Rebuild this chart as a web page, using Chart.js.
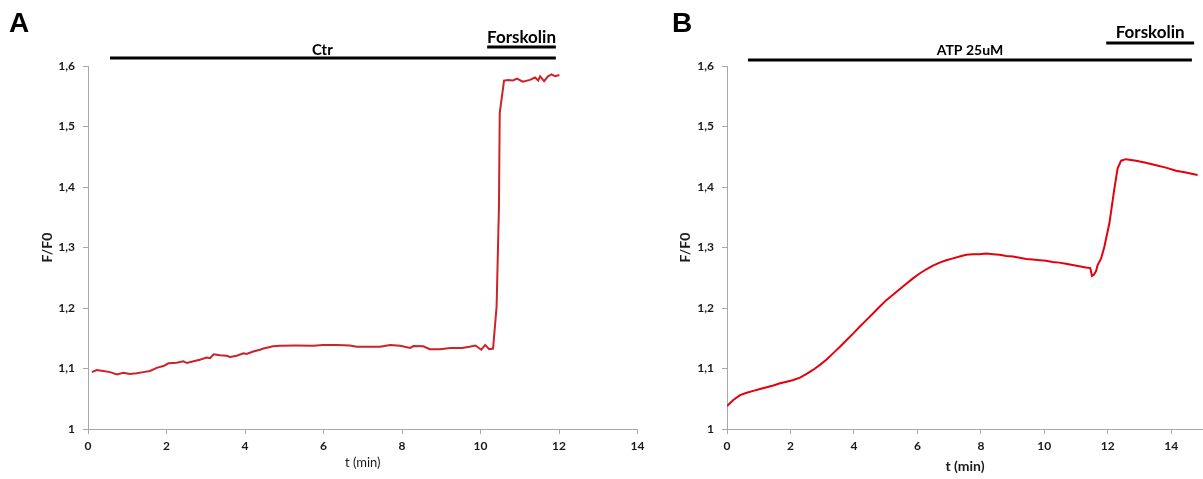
<!DOCTYPE html>
<html>
<head>
<meta charset="utf-8">
<script src="https://cdn.jsdelivr.net/npm/chart.js@4.4.0/dist/chart.umd.min.js"></script>
<style>
  html, body { margin: 0; padding: 0; background: #fff; }
  #wrap { position: relative; width: 1203px; height: 479px; overflow: hidden; }
  #cA { position: absolute; left: 0; top: 0; }
  #cB { position: absolute; left: 640px; top: 0; }
</style>
</head>
<body>
<div id="wrap">
  <canvas id="cA" width="660" height="479" style="width:660px;height:479px"></canvas>
  <canvas id="cB" width="563" height="479" style="width:563px;height:479px"></canvas>
</div>
<script>
// パネルA: 対照 (Ctr) → フォルスコリン
var tA = [0.10, 0.22, 0.39, 0.56, 0.74, 0.90, 1.07, 1.24, 1.41, 1.58, 1.75, 1.92, 2.05, 2.26, 2.43, 2.52,
  2.69, 2.85, 3.02, 3.11, 3.20, 3.36, 3.53, 3.62, 3.79, 3.96, 4.04, 4.21, 4.38, 4.47, 4.72, 4.89,
  5.31, 5.74, 5.99, 6.34, 6.67, 6.85, 7.44, 7.70, 7.95, 8.21, 8.29, 8.54, 8.71, 8.97, 9.23, 9.53,
  9.72, 9.87, 10.02, 10.12, 10.22, 10.32, 10.41, 10.47, 10.49, 10.60, 10.70, 10.83, 10.93, 11.08,
  11.26, 11.39, 11.47, 11.52, 11.62, 11.72, 11.81, 11.90, 12.01];
var fA = [1.094, 1.0975, 1.096, 1.094, 1.090, 1.093, 1.091, 1.092, 1.094, 1.096, 1.101, 1.104, 1.1086, 1.1096, 1.112, 1.109,
  1.112, 1.1145, 1.118, 1.117, 1.1235, 1.122, 1.121, 1.119, 1.121, 1.125, 1.124, 1.128, 1.131, 1.133, 1.1367, 1.1377,
  1.138, 1.1377, 1.139, 1.139, 1.138, 1.136, 1.136, 1.139, 1.1377, 1.134, 1.137, 1.1367, 1.132, 1.132, 1.134, 1.134,
  1.136, 1.138, 1.131, 1.139, 1.132, 1.133, 1.202, 1.367, 1.522, 1.576, 1.577, 1.576, 1.579, 1.574,
  1.577, 1.581, 1.576, 1.583, 1.575, 1.583, 1.586, 1.583, 1.585];

// パネルB: ATP 25uM → フォルスコリン
var tB = [0.00, 0.10, 0.20, 0.41, 0.62, 0.83, 1.04, 1.25, 1.46, 1.67, 1.88, 2.09, 2.30, 2.51, 2.72, 2.93,
  3.14, 3.34, 3.56, 3.77, 3.98, 4.18, 4.39, 4.60, 4.81, 5.02, 5.23, 5.44, 5.65, 5.86, 6.07, 6.28,
  6.49, 6.70, 6.91, 7.12, 7.33, 7.54, 7.75, 7.96, 8.17, 8.38, 8.59, 8.80, 9.01, 9.22, 9.43, 9.64,
  9.85, 10.06, 10.26, 10.47, 10.68, 10.89, 11.10, 11.31, 11.45, 11.50, 11.56, 11.63, 11.68, 11.79,
  11.89, 12.05, 12.20, 12.31, 12.42, 12.57, 12.89, 13.20, 13.52, 13.83, 14.15, 14.46, 14.83];
var fB = [1.038, 1.043, 1.048, 1.056, 1.060, 1.063, 1.066, 1.069, 1.072, 1.0755, 1.078, 1.081, 1.085, 1.091, 1.098, 1.106,
  1.115, 1.125, 1.136, 1.147, 1.158, 1.169, 1.180, 1.191, 1.202, 1.213, 1.222, 1.231, 1.240, 1.249, 1.257, 1.264,
  1.270, 1.275, 1.279, 1.282, 1.285, 1.288, 1.289, 1.289, 1.290, 1.289, 1.288, 1.286, 1.285, 1.283, 1.281, 1.280,
  1.279, 1.278, 1.276, 1.275, 1.273, 1.271, 1.269, 1.267, 1.266, 1.253, 1.255, 1.261, 1.271, 1.282,
  1.301, 1.340, 1.395, 1.431, 1.4435, 1.446, 1.4435, 1.440, 1.436, 1.432, 1.427, 1.424, 1.420];

// 処理区間 (min)
var ctrRange = [0.56, 11.92];
var forskRangeA = [10.17, 11.92];
var atpRange = [0.66, 14.65];
var forskRangeB = [11.95, 14.72];

var yTicks = [1, 1.1, 1.2, 1.3, 1.4, 1.5, 1.6];

var FONT = 'Lato, "Open Sans", sans-serif';
var AXIS_GREY = '#a8a8a8';

function toPoints(ts, vs) {
  return ts.map(function(t, i) { return { x: t, y: vs[i] }; });
}

function fmtComma(v) {
  var r = Math.round(v * 10) / 10;
  return String(r).replace('.', ',');
}

// 上部の処理バーとパネル記号
var annotations = {
  id: 'annotations',
  afterDraw: function(chart, args, opts) {
    var ctx = chart.ctx;
    var xs = chart.scales.x;
    ctx.save();
    ctx.fillStyle = '#000';
    ctx.strokeStyle = '#000';
    ctx.textAlign = 'center';
    ctx.textBaseline = 'middle';
    opts.bars.forEach(function(b) {
      var x0 = xs.getPixelForValue(b.range[0]);
      var x1 = xs.getPixelForValue(b.range[1]);
      ctx.lineWidth = 3;
      ctx.beginPath();
      ctx.moveTo(x0, b.y);
      ctx.lineTo(x1, b.y);
      ctx.stroke();
      ctx.font = b.font;
      var tx = b.labelAt != null ? xs.getPixelForValue(b.labelAt) : (x0 + x1) / 2;
      ctx.fillText(b.label, tx, b.textY);
    });
    ctx.font = 'bold 28px "Liberation Sans", Arial, sans-serif';
    ctx.textAlign = 'left';
    ctx.textBaseline = 'alphabetic';
    ctx.fillText(opts.letter, opts.letterX, 32);
    ctx.restore();
  }
};

function makeChart(id, cfg) {
  return new Chart(document.getElementById(id), {
    type: 'line',
    data: {
      datasets: [{
        data: cfg.points,
        borderColor: cfg.color,
        borderWidth: 2,
        pointRadius: 0,
        tension: 0,
        fill: false
      }]
    },
    options: {
      responsive: false,
      animation: false,
      layout: {
        autoPadding: false,
        padding: { left: 0, top: 66, right: cfg.padRight, bottom: 0 }
      },
      plugins: {
        legend: { display: false },
        tooltip: { enabled: false },
        annotations: cfg.annotations
      },
      scales: {
        x: {
          type: 'linear',
          min: 0,
          max: cfg.xMax,
          afterFit: function(scale) { scale.height = 50; },
          afterBuildTicks: function(scale) {
            scale.ticks = scale.ticks.filter(function(t) { return t.value % 2 === 0; });
          },
          ticks: {
            stepSize: 2,
            padding: 5,
            color: '#1a1a1a',
            font: { family: FONT, size: 12, weight: 'bold' }
          },
          grid: { drawOnChartArea: false, tickLength: 5, color: AXIS_GREY },
          border: { color: AXIS_GREY },
          title: {
            display: true,
            text: 't (min)',
            color: '#1a1a1a',
            padding: cfg.xTitlePad,
            font: { family: FONT, size: cfg.xTitleSize, weight: cfg.xTitleWeight }
          }
        },
        y: {
          min: 1,
          max: 1.6,
          afterFit: function(scale) { scale.width = cfg.yWidth; },
          afterBuildTicks: function(scale) {
            scale.ticks = yTicks.map(function(v) { return { value: v }; });
          },
          ticks: {
            padding: 8,
            color: '#1a1a1a',
            font: { family: FONT, size: 12, weight: 'bold' },
            callback: function(v) { return fmtComma(v); }
          },
          grid: { drawOnChartArea: false, tickLength: 5, color: AXIS_GREY },
          border: { color: AXIS_GREY },
          title: {
            display: true,
            text: 'F/F0',
            color: '#1a1a1a',
            padding: cfg.yTitlePad,
            font: { family: FONT, size: 14, weight: 'bold' }
          }
        }
      }
    },
    plugins: [annotations]
  });
}

makeChart('cA', {
  points: toPoints(tA, fA),
  color: '#cc2229',
  xMax: 14,
  padRight: 22.5,
  yWidth: 88,
  yTitlePad: 39,
  xTitlePad: 8,
  xTitleSize: 13,
  xTitleWeight: 'normal',
  annotations: {
    letter: 'A',
    letterX: 9,
    bars: [
      { range: ctrRange, y: 58, label: 'Ctr', labelAt: 5.97, textY: 50, font: 'bold 15px ' + FONT },
      { range: forskRangeA, y: 47, label: 'Forskolin', textY: 38, font: 'bold 17px ' + FONT }
    ]
  }
});

makeChart('cB', {
  points: toPoints(tB, fB),
  color: '#e3000f',
  xMax: 15,
  padRight: 0,
  yWidth: 87,
  yTitlePad: 37,
  xTitlePad: 4,
  xTitleSize: 14,
  xTitleWeight: 'bold',
  annotations: {
    letter: 'B',
    letterX: 32,
    bars: [
      { range: atpRange, y: 60, label: 'ATP 25uM', textY: 50, font: 'bold 14px ' + FONT },
      { range: forskRangeB, y: 43, label: 'Forskolin', textY: 33, font: 'bold 17px ' + FONT }
    ]
  }
});
</script>
</body>
</html>
